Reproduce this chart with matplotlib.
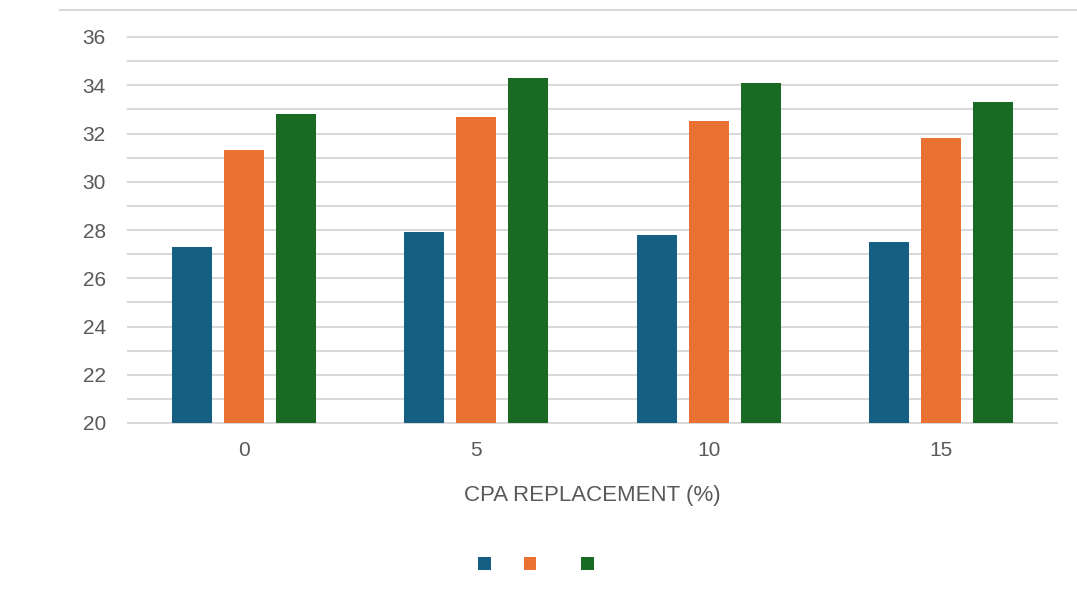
import matplotlib
matplotlib.use("Agg")
import matplotlib.pyplot as plt
import numpy as np

# Data
categories = ["0", "5", "10", "15"]
series_a = [27.3, 27.9, 27.8, 27.5]
series_b = [31.3, 32.7, 32.5, 31.8]
series_c = [32.8, 34.3, 34.1, 33.3]
series_labels = [" ", "   ", " "]
y_ticks = [20, 22, 24, 26, 28, 30, 32, 34, 36]

colors = ["#156082", "#E97132", "#196B24"]
grid_color = "#d9d9d9"
text_color = "#595959"

plt.rcParams['font.family'] = ['Liberation Sans', 'DejaVu Sans']

fig = plt.figure(figsize=(10.77, 5.98), dpi=100)
ax = fig.add_axes([128 / 1077, 1 - 423 / 598, (1057 - 128) / 1077, (423 - 37) / 598])

x = np.arange(len(categories)) + 0.5
width = 0.172
step = 0.224
for i, (vals, c, lab) in enumerate(zip([series_a, series_b, series_c], colors, series_labels)):
    ax.bar(x + (i - 1) * step, np.array(vals) - 20, bottom=20, width=width,
           color=c, label=lab, zorder=3)

ax.set_xlim(0, len(categories))
ax.set_ylim(20, 36)
ax.set_yticks(y_ticks)
ax.set_yticks(np.arange(20, 37, 1), minor=True)
ax.set_xticks(x)
ax.set_xticklabels(categories)
ax.grid(axis='y', which='both', color=grid_color, linewidth=1.5, zorder=0, clip_on=False)
for s in ax.spines.values():
    s.set_visible(False)
ax.tick_params(axis='y', which='both', length=0, pad=16, labelsize=15, labelcolor=text_color)
ax.tick_params(axis='x', length=0, pad=13, labelsize=15, labelcolor=text_color)
ax.set_xlabel("CPA REPLACEMENT (%)", fontsize=16, color=text_color, labelpad=18)

fig.legend(loc='center left', bbox_to_anchor=(468 / 1077, 1 - 565 / 598), ncol=3,
           frameon=False, borderpad=0, handlelength=0.58, handleheight=0.58,
           handletextpad=0.4, columnspacing=0.94, fontsize=15)

# thin frame line at the top of the chart area
fig.add_artist(plt.Line2D([60 / 1077, 1], [1 - 10 / 598] * 2, color=grid_color, linewidth=1.5))

fig.savefig("out.png", dpi=100)
